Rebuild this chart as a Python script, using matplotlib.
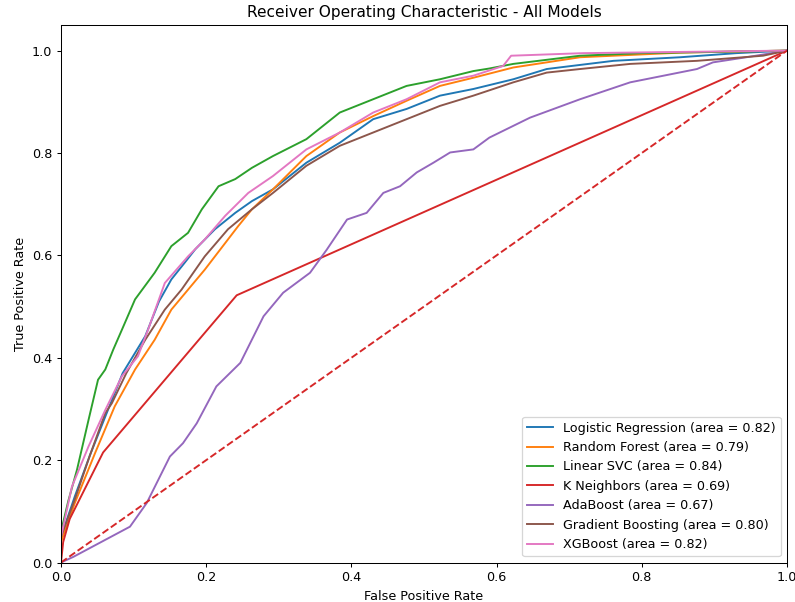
import matplotlib
matplotlib.use("Agg")
import matplotlib.pyplot as plt

# ROC points (false positive rate, true positive rate)
logreg_fpr = [0.0, 0.0, 0.019, 0.04, 0.061, 0.085, 0.116, 0.135, 0.152, 0.17, 0.185, 0.212, 0.24, 0.263, 0.292,
              0.338, 0.384, 0.43, 0.476, 0.522, 0.568, 0.623, 0.669, 0.761, 0.853, 0.93, 1.0]
logreg_tpr = [0.0, 0.05, 0.129, 0.21, 0.285, 0.37, 0.442, 0.51, 0.553, 0.585, 0.612, 0.651, 0.683, 0.706, 0.729,
              0.781, 0.82, 0.866, 0.886, 0.912, 0.925, 0.944, 0.964, 0.98, 0.987, 0.995, 1.0]

rf_fpr = [0.0, 0.0, 0.019, 0.047, 0.074, 0.102, 0.129, 0.152, 0.198, 0.244, 0.263, 0.292, 0.338, 0.384, 0.43,
          0.476, 0.522, 0.568, 0.623, 0.715, 0.853, 1.0]
rf_tpr = [0.0, 0.04, 0.116, 0.214, 0.305, 0.377, 0.435, 0.494, 0.572, 0.657, 0.69, 0.729, 0.794, 0.84, 0.872,
          0.902, 0.931, 0.947, 0.967, 0.987, 0.996, 1.0]

svc_fpr = [0.0, 0.0, 0.01, 0.022, 0.038, 0.051, 0.061, 0.072, 0.084, 0.102, 0.129, 0.152, 0.175, 0.194, 0.217,
           0.24, 0.263, 0.292, 0.338, 0.384, 0.43, 0.476, 0.522, 0.568, 0.59, 0.623, 0.715, 0.8, 1.0]
svc_tpr = [0.0, 0.06, 0.12, 0.181, 0.279, 0.357, 0.377, 0.416, 0.455, 0.514, 0.566, 0.618, 0.644, 0.69, 0.735,
           0.749, 0.771, 0.794, 0.827, 0.879, 0.905, 0.931, 0.944, 0.96, 0.965, 0.974, 0.99, 0.995, 1.0]

knn_fpr = [0.0, 0.003, 0.012, 0.058, 0.242, 1.0]
knn_tpr = [0.0, 0.04, 0.085, 0.215, 0.522, 1.0]

ada_fpr = [0.0, 0.017, 0.095, 0.118, 0.15, 0.168, 0.187, 0.214, 0.247, 0.279, 0.306, 0.343, 0.366, 0.394, 0.421,
           0.444, 0.467, 0.49, 0.513, 0.536, 0.568, 0.59, 0.646, 0.715, 0.784, 0.83, 0.876, 0.898, 0.944, 1.0]
ada_tpr = [0.0, 0.011, 0.07, 0.116, 0.207, 0.233, 0.272, 0.344, 0.39, 0.481, 0.527, 0.566, 0.611, 0.67, 0.683,
           0.722, 0.735, 0.762, 0.781, 0.801, 0.807, 0.83, 0.869, 0.905, 0.938, 0.951, 0.964, 0.977, 0.987, 1.0]

gb_fpr = [0.0, 0.0, 0.019, 0.04, 0.061, 0.07, 0.09, 0.116, 0.143, 0.166, 0.198, 0.23, 0.263, 0.292, 0.338,
          0.384, 0.43, 0.476, 0.522, 0.568, 0.623, 0.669, 0.715, 0.784, 0.876, 0.967, 1.0]
gb_tpr = [0.0, 0.05, 0.123, 0.21, 0.292, 0.311, 0.37, 0.435, 0.494, 0.533, 0.598, 0.651, 0.69, 0.722, 0.775,
          0.814, 0.84, 0.866, 0.892, 0.912, 0.938, 0.957, 0.964, 0.974, 0.98, 0.99, 1.0]

xgb_fpr = [0.0, 0.0, 0.015, 0.038, 0.061, 0.084, 0.106, 0.12, 0.143, 0.175, 0.198, 0.226, 0.258, 0.292, 0.338,
           0.384, 0.43, 0.476, 0.522, 0.568, 0.609, 0.62, 0.719, 1.0]
xgb_tpr = [0.0, 0.05, 0.148, 0.227, 0.298, 0.364, 0.403, 0.455, 0.546, 0.598, 0.631, 0.677, 0.722, 0.755, 0.807,
           0.84, 0.879, 0.905, 0.938, 0.951, 0.97, 0.99, 0.995, 1.0]

model_names = ["Logistic Regression", "Random Forest", "Linear SVC", "K Neighbors",
               "AdaBoost", "Gradient Boosting", "XGBoost"]
model_auc = [0.82, 0.79, 0.84, 0.69, 0.67, 0.80, 0.82]

curves = [(logreg_fpr, logreg_tpr), (rf_fpr, rf_tpr), (svc_fpr, svc_tpr), (knn_fpr, knn_tpr),
          (ada_fpr, ada_tpr), (gb_fpr, gb_tpr), (xgb_fpr, xgb_tpr)]

DPI = 92
fig = plt.figure(figsize=(795 / DPI, 602 / DPI), dpi=DPI)
ax = fig.add_axes([61 / 795, 39.5 / 602, 726 / 795, 537.5 / 602])

for (fpr, tpr), name, auc in zip(curves, model_names, model_auc):
    ax.plot(fpr, tpr, label=f"{name} (area = {auc:.2f})")

# chance line
ax.plot([0, 1], [0, 1], color="#d62728", linestyle="--")
ax.set_xlim([0.0, 1.0])
ax.set_ylim([0.0, 1.05])
ax.set_xlabel("False Positive Rate")
ax.set_ylabel("True Positive Rate")
ax.set_title("Receiver Operating Characteristic - All Models")
ax.legend(loc="lower right")

fig.savefig("out.png", dpi=DPI)
